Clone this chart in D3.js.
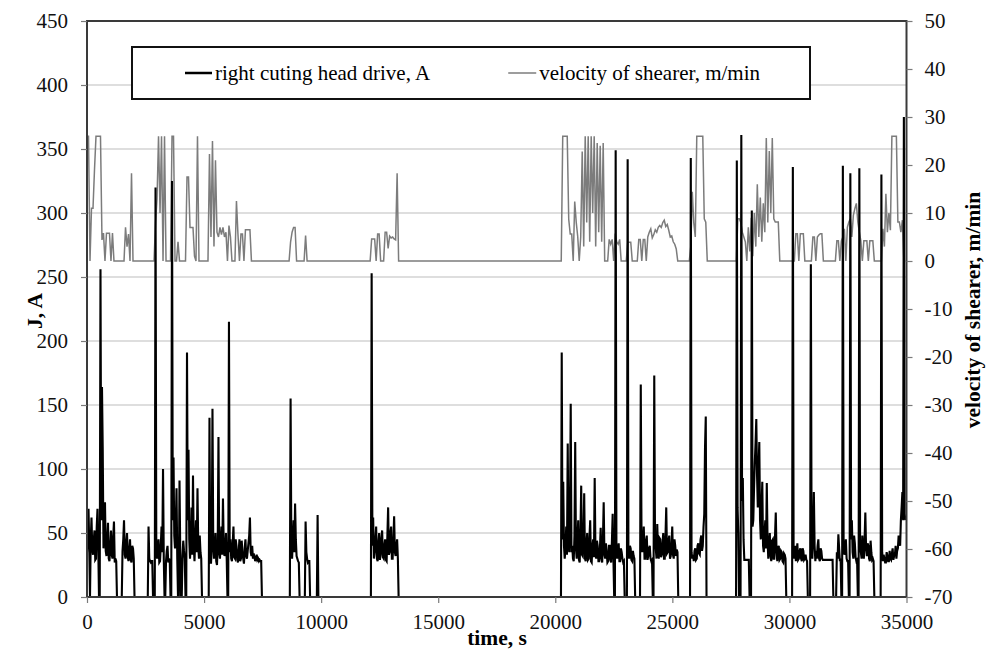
<!DOCTYPE html>
<html>
<head>
<meta charset="utf-8">
<script src="https://cdn.jsdelivr.net/npm/d3@7/dist/d3.min.js"></script>
<style>
  body { margin: 0; background: #fff; }
  text { font-family: "Liberation Serif", "Times New Roman", serif; }
</style>
</head>
<body>
<div id="chart"></div>
<script>
// sampling periods of the recorder, s
const currentStep = 32;
const velocityStep = 64;

// right cutting head drive current, A (runs of samples, t0 = start time in s)
const currentRuns = [
  { t0: 0,     j: [35, 48, 69, 40, 0, 45, 62, 38, 33, 44, 52, 29, 30, 55, 69, 40, 0, 0, 256, 60,
                   164, 115, 38, 60, 74, 36, 32, 45, 58, 30, 28, 40, 52, 33, 30, 47, 59, 27, 30, 28, 0] },
  { t0: 1453,  j: [0, 0, 36, 45, 60, 33, 30, 42, 50, 31, 28, 36, 45, 29, 27, 40, 38, 30, 0] },
  { t0: 2564,  j: [0, 0, 55, 30, 28, 27, 28, 28, 0] },
  { t0: 2863,  j: [0, 0, 320, 42, 30, 38, 45, 27, 28, 40, 55, 35, 100, 30, 0, 0, 28, 36, 40, 27,
                   30, 28, 0, 0, 325, 60, 109, 48, 38, 55, 85, 30, 0, 0, 91, 35, 0, 0, 32, 44,
                   36, 30, 0, 0, 191, 60, 115, 45, 30, 40, 70, 33, 95, 40, 28, 45, 60, 35, 85, 40,
                   30, 48, 35, 30, 0, 0, 0, 0, 0, 0, 0, 0, 0, 0, 140, 30, 26, 38, 147, 45,
                   30, 36, 50, 28, 25, 40, 125, 35, 30, 44, 55, 33, 77, 40, 32, 38, 50, 30, 0, 0,
                   215, 35, 45, 30, 28, 42, 55, 31, 30, 45, 40, 29, 27, 36, 45, 28, 30, 44, 35, 30,
                   26, 38, 45, 32, 30, 36, 42, 48, 62, 35, 32, 40, 30, 34, 31, 28, 30, 33, 29, 30,
                   28, 29, 28, 28, 0] },
  { t0: 8631,  j: [0, 0, 155, 40, 30, 45, 60, 35, 73, 45, 32, 30, 28, 27, 0] },
  { t0: 9272,  j: [0, 0, 59, 35, 30, 27, 28, 28, 0] },
  { t0: 9785,  j: [0, 0, 64, 0, 0] },
  { t0: 12093, j: [0, 0, 253, 40, 62, 30, 35, 45, 55, 30, 28, 42, 50, 29, 33, 46, 52, 31, 30, 40,
                   45, 29, 28, 48, 70, 33, 35, 50, 55, 30, 30, 44, 63, 35, 32, 40, 45, 30, 0] },
  { t0: 20211, j: [0, 0, 191, 45, 90, 40, 30, 38, 55, 33, 120, 45, 35, 60, 151, 35, 40, 30, 28, 48,
                   121, 38, 30, 45, 60, 29, 27, 50, 87, 33, 32, 45, 81, 30, 28, 42, 50, 29, 30, 46,
                   60, 28, 27, 40, 45, 31, 93, 36, 30, 44, 40, 28, 28, 38, 54, 30, 27, 45, 74, 33,
                   30, 42, 35, 27, 28, 40, 40, 29, 27, 44, 65, 30, 0, 0, 349, 35, 30, 36, 42, 28,
                   28, 38, 35, 30, 27, 28, 0, 0, 0, 0, 342, 35, 30, 40, 38, 29, 28, 36, 32, 30, 0] },
  { t0: 23587, j: [0, 0, 166, 45, 35, 42, 55, 30, 30, 44, 48, 29, 32, 38, 40, 30, 28, 29, 0, 0,
                   173, 45, 38, 30, 57, 36, 30, 46, 45, 31, 33, 42, 50, 30, 30, 48, 70, 34, 35, 44,
                   48, 30, 32, 40, 55, 33, 30, 45, 40, 32, 37, 35, 0] },
  { t0: 25723, j: [0, 0, 343, 35, 30, 33, 28, 36, 38, 29, 30, 40, 42, 34, 33, 45, 48, 36, 40, 55,
                   65, 117, 141, 0, 0] },
  { t0: 27689, j: [0, 0, 341, 70, 50, 0, 0, 0, 361, 75, 93, 45, 29, 29, 29, 29, 29, 29, 29, 0,
                   0, 0, 302, 55, 60, 85, 105, 120, 139, 95, 70, 100, 121, 60, 45, 70, 90, 40, 35, 50,
                   60, 38, 89, 45, 30, 40, 50, 32, 28, 44, 45, 30, 30, 48, 66, 35, 28, 38, 40, 29,
                   30, 36, 35, 28, 27, 34, 33, 30, 0] },
  { t0: 30082, j: [0, 0, 336, 35, 30, 40, 28, 33, 42, 29, 30, 36, 38, 30, 28, 38, 36, 29, 30, 33,
                   29, 28, 0] },
  { t0: 30851, j: [0, 0, 260, 40, 30, 50, 82, 40, 28, 36, 30, 40, 45, 30, 28, 38, 36, 30, 29, 29,
                   29, 29, 29, 29, 29, 29, 29, 29, 29, 29, 29, 29, 0] },
  { t0: 31962, j: [0, 0, 35, 30, 49, 38, 28, 30, 0, 0, 337, 40, 33, 38, 45, 30, 28, 28, 0, 0,
                   331, 45, 60, 35, 30, 48, 42, 31, 28, 29, 0, 0, 335, 40, 35, 30, 48, 36, 30, 45,
                   66, 38, 32, 42, 40, 30, 28, 44, 35, 29, 30, 28, 0] },
  { t0: 33864, j: [0, 0, 330, 35, 28, 33, 30, 27, 27, 35, 32, 28, 28, 36, 30, 29, 34, 38, 29, 32,
                   33, 40, 30, 36, 38, 48, 45, 40, 60, 70, 82, 60, 375, 65, 60] }
];

// velocity of shearer, m/min
const velocityRuns = [
  { t0: 0,     v: [26, 26, 0, 11, 11, 19, 26, 26, 26, 26, 4.4, 5.8, 0, 5.8, 5.8, 5.8, 0, 5.8, 0] },
  { t0: 1581,  v: [0, 7, 3, 5.6, 0, 18.3, 0] },
  { t0: 2863,  v: [0, 8, 13, 26, 10, 26, 0, 26, 0, 0, 0, 0, 26, 26, 0, 0, 4, 0, 0, 0,
                   0, 0, 17.5, 17.5, 7, 7, 7, 1, 0, 26, 0, 0, 0, 0, 0, 0, 0, 22.3, 5, 25,
                   3, 21, 6, 5, 7, 5.5, 7, 5, 6, 0, 7.4, 5, 0, 0, 0, 12.5, 5.6, 0, 5.6, 5.6,
                   0, 6.5, 6.5, 6.5, 6.5, 0] },
  { t0: 8631,  v: [0, 4, 6, 7, 7, 0] },
  { t0: 9272,  v: [0, 5.3, 0] },
  { t0: 12093, v: [0, 4.6, 4.6, 4.6, 0, 5.6, 5.6, 0, 0, 0, 6, 6, 2.6, 5.2, 4.8, 5, 4.6, 4.4, 18.3, 0] },
  { t0: 20254, v: [0, 26, 26, 26, 26, 8.7, 5.6, 5.6, 0, 12.4, 8.1, 5.1, 0, 5, 22.8, 3, 26, 8, 26, 4,
                   26, 10, 26, 3, 24.6, 6, 24, 4, 24.6, 0, 0, 0, 4.5, 3.5, 4.5, 0, 5.7, 4, 3.5, 4.5, 0] },
  { t0: 23031, v: [0, 3.9, 3.9, 3.9, 0] },
  { t0: 23502, v: [0, 4.5, 4.5, 0, 4.5, 4.5, 0, 5, 6, 6.7, 4.8, 5.5, 6.5, 6, 7, 7.4, 7, 8, 8.5, 7.2,
                   7.6, 6.4, 5, 5.2, 4, 3.5, 2.5, 0] },
  { t0: 25723, v: [0, 3, 14.4, 8, 5, 26, 26, 26, 26, 26, 8.8, 8.1, 0] },
  { t0: 27732, v: [0, 8.8, 8.8, 8, 6, 5, 4, 0, 7, 2, 9, 1, 10, 3, 16, 5, 13.2, 4, 12, 6,
                   25.6, 8, 22.9, 10, 25.6, 8.8, 8.1, 8.1, 8.1, 0] },
  { t0: 30210, v: [0, 5.7, 5.7, 0, 5.7, 5.7, 5.7, 0] },
  { t0: 30937, v: [0, 5, 5, 0, 5, 5.4, 5.7, 5.7, 0] },
  { t0: 31962, v: [0, 4.2, 4.2, 0, 4.2, 5, 6.7, 0, 7, 8.1, 8.8, 5, 9.5, 10.9, 12, 8.1, 6, 4.2, 0, 4.2,
                   4.2, 4.2, 0, 4.2, 4.2, 4.2, 0] },
  { t0: 33864, v: [0, 0, 6.7, 3, 14, 6, 10, 6.4, 26, 26, 26, 26, 8.1, 8.1, 6, 8.5, 0, 0] }
];

// tick labels
const currentTicks = [0, 50, 100, 150, 200, 250, 300, 350, 400, 450];
const velocityTicks = [-70, -60, -50, -40, -30, -20, -10, 0, 10, 20, 30, 40, 50];
const timeTicks = [0, 5000, 10000, 15000, 20000, 25000, 30000, 35000];
const legendLabels = ["right cuting head drive, A", "velocity of shearer, m/min"];

// flatten runs into [t, value] points
const current = currentRuns.flatMap((r) => r.j.map((d, i) => [r.t0 + i * currentStep, d]));
const velocity = velocityRuns.flatMap((r) => r.v.map((d, i) => [r.t0 + i * velocityStep, d]));

const width = 986;
const height = 664;
const plot = { left: 87, right: 906.5, top: 21, bottom: 597 };
const serif = "'Liberation Serif', 'Times New Roman', serif";
const fontSize = 21;

const svg = d3.select("#chart")
  .append("svg")
    .attr("width", width)
    .attr("height", height)
    .attr("font-family", serif)
    .attr("font-size", fontSize);

const x = d3.scaleLinear().domain([0, 35000]).range([plot.left, plot.right]);
const yJ = d3.scaleLinear().domain([0, 450]).range([plot.bottom, plot.top]);
const yV = d3.scaleLinear().domain([-70, 50]).range([plot.bottom, plot.top]);

// gridlines
svg.append("g")
  .selectAll("line")
  .data(currentTicks)
  .enter()
  .append("line")
    .attr("x1", plot.left)
    .attr("x2", plot.right)
    .attr("y1", (d) => yJ(d))
    .attr("y2", (d) => yJ(d))
    .style("stroke", "#bdbdbd")
    .style("stroke-width", 1.2);

// series
const lineV = d3.line().x((d) => x(d[0])).y((d) => yV(d[1]));
const lineJ = d3.line().x((d) => x(d[0])).y((d) => yJ(d[1]));

svg.append("path")
  .datum(velocity)
  .attr("d", lineV)
  .style("fill", "none")
  .style("stroke", "#7c7c7c")
  .style("stroke-width", 1.5);

svg.append("path")
  .datum(current)
  .attr("d", lineJ)
  .style("fill", "none")
  .style("stroke", "#000")
  .style("stroke-width", 2.1);

// plot frame
svg.append("rect")
  .attr("x", plot.left)
  .attr("y", plot.top)
  .attr("width", plot.right - plot.left)
  .attr("height", plot.bottom - plot.top)
  .style("fill", "none")
  .style("stroke", "#3a3a3a")
  .style("stroke-width", 2);

// axes
const plain = (d) => String(d);

const axisLeft = svg.append("g")
  .attr("transform", `translate(${plot.left},0)`)
  .call(d3.axisLeft(yJ).tickValues(currentTicks).tickFormat(plain).tickSize(6).tickPadding(13));

const axisRight = svg.append("g")
  .attr("transform", `translate(${plot.right},0)`)
  .call(d3.axisRight(yV).tickValues(velocityTicks).tickFormat(plain).tickSize(6).tickPadding(12));

const axisBottom = svg.append("g")
  .attr("transform", `translate(0,${plot.bottom})`)
  .call(d3.axisBottom(x).tickValues(timeTicks).tickFormat(plain).tickSize(6).tickPadding(11));

[axisLeft, axisRight, axisBottom].forEach((g) => {
  g.attr("font-family", serif).attr("font-size", fontSize);
  g.select(".domain").remove();
  g.selectAll(".tick line").style("stroke", "#7a7a7a").style("stroke-width", 1.2);
  g.selectAll(".tick text").style("fill", "#111");
});

// axis titles
const titleSize = 21.5;

svg.append("text")
  .attr("transform", "translate(42,311) rotate(-90)")
  .attr("text-anchor", "middle")
  .style("font-weight", "bold")
  .style("font-size", titleSize + "px")
  .text("J, A");

svg.append("text")
  .attr("transform", "translate(980,310) rotate(-90)")
  .attr("text-anchor", "middle")
  .style("font-weight", "bold")
  .style("font-size", titleSize + "px")
  .text("velocity of shearer, m/min");

svg.append("text")
  .attr("x", 497)
  .attr("y", 645)
  .attr("text-anchor", "middle")
  .style("font-weight", "bold")
  .style("font-size", titleSize + "px")
  .text("time, s");

// legend
const legend = svg.append("g");
legend.append("rect")
  .attr("x", 132)
  .attr("y", 47)
  .attr("width", 678)
  .attr("height", 52)
  .style("fill", "#fff")
  .style("stroke", "#111")
  .style("stroke-width", 2);

legend.append("line")
  .attr("x1", 185).attr("x2", 212)
  .attr("y1", 73).attr("y2", 73)
  .style("stroke", "#000")
  .style("stroke-width", 2.5);

legend.append("text")
  .attr("x", 215)
  .attr("y", 80)
  .text(legendLabels[0]);

const label2 = legend.append("text")
  .attr("x", 760)
  .attr("y", 80)
  .attr("text-anchor", "end")
  .text(legendLabels[1]);

const w2 = label2.node().getComputedTextLength();
legend.append("line")
  .attr("x1", 760 - w2 - 31).attr("x2", 760 - w2 - 3)
  .attr("y1", 73).attr("y2", 73)
  .style("stroke", "#7c7c7c")
  .style("stroke-width", 1.5);
</script>
</body>
</html>
